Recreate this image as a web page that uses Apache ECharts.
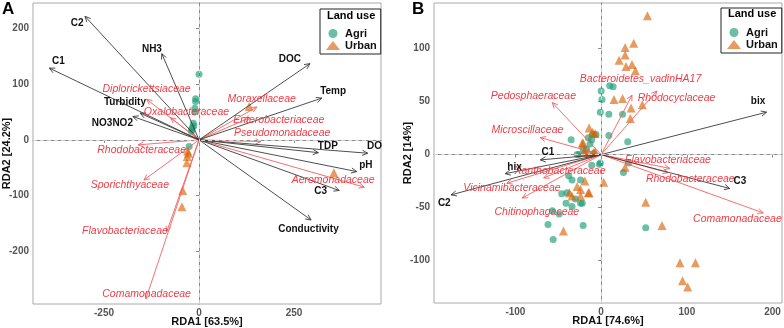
<!DOCTYPE html>
<html>
<head>
<meta charset="utf-8">
<script src="https://cdn.jsdelivr.net/npm/echarts@6/dist/echarts.min.js"></script>
<style>
  html, body { margin: 0; padding: 0; background: #fff; }
  #chart { width: 784px; height: 328px; }
</style>
</head>
<body>
<div id="chart"></div>
<script>
// panel A: environmental arrows
var aEnvNames = ['C2', 'C1', 'NH3', 'Turbidity', 'NO3NO2', 'DOC', 'Temp', 'TDP', 'DO', 'pH', 'C3', 'Conductivity'];
var aEnvTips = [[-300, 222], [-394, 129], [-98, 155], [-155, 48], [-174, 42], [292, 137], [323, 75], [314, -23], [444, -24], [415, -57], [369, -91], [295, -144]];
var aEnvLabels = [[-321, 209], [-370, 141], [-124, 163], [-195, 67], [-228, 30], [239, 145], [353, 88], [339, -11], [462, -11], [439, -45], [320, -93], [288, -160]];
// panel A: taxa arrows
var aTaxaNames = ['Diplorickettsiaceae', 'Oxalobacteraceae', 'Rhodobacteraceae', 'Sporichthyaceae', 'Flavobacteriaceae', 'Comamonadaceae', 'Moraxellaceae', 'Enterobacteriaceae', 'Pseudomonadaceae', 'Aeromonadaceae'];
var aTaxaTips = [[-138, 73], [-75, 40], [-160, -9], [-145, -72], [-85, -165], [-140, -286], [152, 59], [134, 40], [163, -3], [435, -85]];
var aTaxaLabels = [[-138, 91], [-33, 50], [-151, -19], [-182, -81], [-195, -164], [-138, -277], [165, 73], [210, 36], [219, 12], [353, -73]];
// panel A: sites
var aAgri = [[0, 118], [-9, 74], [-9, 69], [-11, 57], [-11, 50], [-15, 30], [-18, 22], [-19, 18], [-20, 15], [-14, 25], [-26, -12]];
var aUrban = [[-30, -20], [-28, -24], [-31, -30], [-32, -41], [-43, -91], [-45, -120], [132, 60], [355, -59]];

// panel B: environmental arrows
var bEnvNames = ['bix', 'C1', 'hix', 'C2', 'C3'];
var bEnvTips = [[193, 40], [-71, -5], [-112, -18], [-175, -38], [150, -32]];
var bEnvLabels = [[183, 50], [-62, 2], [-101, -12], [-183, -46], [162, -25]];
// panel B: taxa arrows
var bTaxaNames = ['Bacteroidetes_vadinHA17', 'Rhodocyclaceae', 'Pedosphaeraceae', 'Microscillaceae', 'Xanthobacteraceae', 'Vicinamibacteraceae', 'Chitinophagaceae', 'Flavobacteriaceae', 'Rhodobacteraceae', 'Comamonadaceae'];
var bTaxaTips = [[36, 56], [65, 60], [-57, 49], [-71, 16], [-67, -22], [-110, -27], [-92, -41], [78, -17], [80, -13], [189, -55]];
var bTaxaLabels = [[46, 71], [88, 53], [-79, 55], [-86, 23], [-48, -16], [-104, -32], [-75, -54], [78, -5], [104, -23], [159, -61]];
// panel B: sites
var bAgri = [[0, 60], [10, 65], [14, 64], [1, 52], [-1, 40], [9, 38], [25, 38], [9, 18], [31, 12], [-10, 19], [-6, 19], [-11, 14],
  [-21, 5], [-9, 1], [-1, -8], [-11, -10], [32, -8], [-35, 14], [-15, 16], [-13, 10], [-28, 0], [-17, 5], [-38, -20], [-34, -24],
  [-24, -24], [-26, 0], [-46, -37], [-40, -36], [-30, -42], [-41, -46], [-34, -49], [-24, -46], [-57, -53], [-49, -56], [-62, -66],
  [-56, -80], [-21, -67], [26, -17], [52, -69], [-22, -46], [-2, -9]];
var bUrban = [[54, 131], [38, 105], [28, 101], [28, 94], [21, 89], [29, 83], [36, 85], [40, 79], [15, 52], [25, 53], [35, 44], [48, 47],
  [34, 34], [-14, 25], [-10, 21], [-21, 11], [-15, 2], [-7, 20], [-22, 11], [-19, 2], [-9, 2], [-7, 3], [-28, -30], [-24, -33], [-34, -39],
  [-24, -39], [-15, -36], [3, -26], [-19, -25], [-44, -72], [-37, -36], [-14, -36], [28, -12], [52, -45], [71, -67], [92, -102],
  [110, -102], [95, -119], [101, -125], [-20, 3]];

var xTicksA = [-250, 0, 250];
var yTicksA = [-200, -100, 0, 100, 200];
var xTicksB = [-100, 0, 100, 200];
var yTicksB = [-100, -50, 0, 50, 100];

var FONT = 'Liberation Sans, Arial, sans-serif';
var GREEN = 'rgba(27,158,119,0.82)';
var ORANGE = 'rgba(217,95,2,0.78)';
var DARK = '#3a3a3a';
var RED = '#f46060';

function arrowSeries(idx, tips, color) {
  return {
    type: 'custom', xAxisIndex: idx, yAxisIndex: idx, z: 3, silent: true,
    data: tips,
    renderItem: function (params, api) {
      var o = api.coord([0, 0]);
      var p = api.coord([api.value(0), api.value(1)]);
      var a = Math.atan2(p[1] - o[1], p[0] - o[0]);
      var L = 6, s = Math.PI / 7;
      var h1 = [p[0] - L * Math.cos(a - s), p[1] - L * Math.sin(a - s)];
      var h2 = [p[0] - L * Math.cos(a + s), p[1] - L * Math.sin(a + s)];
      return {
        type: 'group', children: [
          { type: 'line', shape: { x1: o[0], y1: o[1], x2: p[0], y2: p[1] }, style: { stroke: color, lineWidth: 0.9 } },
          { type: 'polyline', shape: { points: [h1, p, h2] }, style: { stroke: color, fill: null, lineWidth: 0.9 } }
        ]
      };
    }
  };
}

function labelSeries(idx, pos, names, color, italic) {
  return {
    type: 'custom', xAxisIndex: idx, yAxisIndex: idx, z: 5, silent: true,
    data: pos.map(function (p, i) { return [p[0], p[1], i]; }),
    renderItem: function (params, api) {
      var p = api.coord([api.value(0), api.value(1)]);
      return {
        type: 'text', x: p[0], y: p[1],
        style: {
          text: names[api.value(2)], align: 'center', verticalAlign: 'middle',
          fill: color, font: (italic ? 'italic 10.5px ' : 'bold 10px ') + FONT
        }
      };
    }
  };
}

function siteSeries(idx, name, data, symbol, color, size, withLines) {
  var s = {
    name: name, type: 'scatter', xAxisIndex: idx, yAxisIndex: idx, z: 2,
    symbol: symbol, symbolSize: size, data: data,
    itemStyle: { color: color }
  };
  if (withLines) {
    s.markLine = {
      silent: true, symbol: 'none', label: { show: false },
      lineStyle: { color: '#cfcfcf', type: [4, 3], width: 1 },
      data: [{ xAxis: 0 }, { yAxis: 0 }]
    };
  }
  return s;
}

function xAxis(idx, min, max, ticks, name) {
  return {
    type: 'value', gridIndex: idx, min: min, max: max,
    name: name, nameLocation: 'middle', nameGap: 12, nameMoveOverlap: false,
    nameTextStyle: { fontFamily: FONT, fontWeight: 'bold', fontSize: 11, color: '#111' },
    axisLine: { lineStyle: { color: '#888' } },
    axisTick: { customValues: ticks, length: 3, lineStyle: { color: '#888' } },
    axisLabel: { customValues: ticks, fontFamily: FONT, fontWeight: 'bold', fontSize: 10, color: '#555', margin: 4 },
    splitLine: { show: false }
  };
}

function yAxis(idx, min, max, ticks, name) {
  return {
    type: 'value', gridIndex: idx, min: min, max: max,
    name: name, nameLocation: 'middle', nameGap: 21, nameRotate: 90, nameMoveOverlap: false,
    nameTextStyle: { fontFamily: FONT, fontWeight: 'bold', fontSize: 11, color: '#111' },
    axisLine: { show: true, lineStyle: { color: '#888' } },
    axisTick: { show: true, customValues: ticks, length: 3, lineStyle: { color: '#888' } },
    axisLabel: { customValues: ticks, fontFamily: FONT, fontWeight: 'bold', fontSize: 10, color: '#555', margin: 4 },
    splitLine: { show: false }
  };
}

function legendAt(left, top) {
  return {
    left: left, top: top, orient: 'vertical', data: ['Agri', 'Urban'],
    borderColor: '#222', borderWidth: 1, borderRadius: 0,
    padding: [19, 4, 3, 6], itemGap: 1, itemWidth: 14, itemHeight: 9,
    textStyle: { fontFamily: FONT, fontWeight: 'bold', fontSize: 11, color: '#111' },
    selectedMode: false
  };
}

function titleAt(text, left, top, size) {
  return { text: text, left: left, top: top, padding: 0, textStyle: { fontFamily: FONT, fontWeight: 'bold', fontSize: size, color: '#000' } };
}

var chart = echarts.init(document.getElementById('chart'));
chart.setOption({
  animation: false,
  backgroundColor: '#fff',
  title: [
    titleAt('A', 2, 1, 17),
    titleAt('B', 412, 1, 17),
    titleAt('Land use', 327, 10, 11),
    titleAt('Land use', 728, 8, 11)
  ],
  legend: [legendAt(320, 9), legendAt(721, 8)],
  grid: [
    { left: 33, top: 3, right: 403, bottom: 24, show: true, borderColor: '#aaa', borderWidth: 1, outerBoundsMode: 'none' },
    { left: 434, top: 3, right: 2, bottom: 25, show: true, borderColor: '#aaa', borderWidth: 1, outerBoundsMode: 'none' }
  ],
  xAxis: [
    xAxis(0, -437, 479, xTicksA, 'RDA1 [63.5%]'),
    xAxis(1, -195, 211, xTicksB, 'RDA1 [74.6%]')
  ],
  yAxis: [
    yAxis(0, -295, 246, yTicksA, 'RDA2 [24.2%]'),
    yAxis(1, -140, 143, yTicksB, 'RDA2 [14%]')
  ],
  series: [
    siteSeries(0, 'Agri', aAgri, 'circle', GREEN, 7, true),
    siteSeries(0, 'Urban', aUrban, 'triangle', ORANGE, 9, false),
    siteSeries(1, 'Agri', bAgri, 'circle', GREEN, 7, true),
    siteSeries(1, 'Urban', bUrban, 'triangle', ORANGE, 9, false),
    arrowSeries(0, aTaxaTips, RED),
    arrowSeries(0, aEnvTips, DARK),
    arrowSeries(1, bTaxaTips, RED),
    arrowSeries(1, bEnvTips, DARK),
    labelSeries(0, aTaxaLabels, aTaxaNames, '#f03c46', true),
    labelSeries(0, aEnvLabels, aEnvNames, '#111', false),
    labelSeries(1, bTaxaLabels, bTaxaNames, '#f03c46', true),
    labelSeries(1, bEnvLabels, bEnvNames, '#111', false)
  ]
});
</script>
</body>
</html>
